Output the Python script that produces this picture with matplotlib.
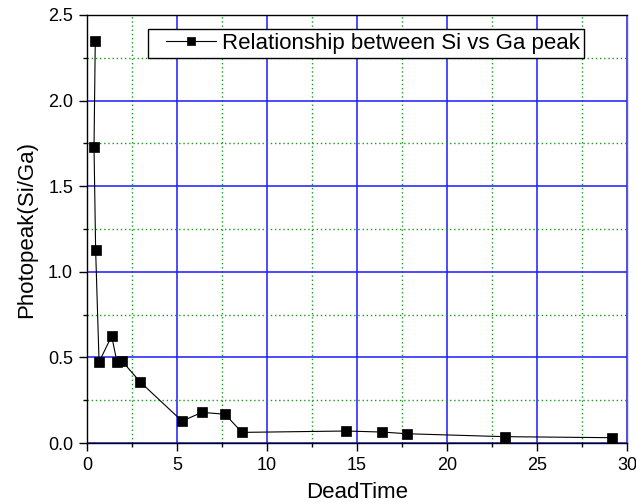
import matplotlib
matplotlib.use("Agg")
from matplotlib import pyplot as plt
from matplotlib.ticker import MultipleLocator, FormatStrFormatter
from matplotlib.legend_handler import HandlerLine2D

# Data (in plotting order)
dead_time = [0.46, 0.39, 0.48, 0.67, 1.37, 1.67, 1.96, 2.96, 5.28, 6.39,
             7.67, 8.61, 14.39, 16.39, 17.8, 23.2, 29.15]
ratio = [2.35, 1.73, 1.127, 0.473, 0.625, 0.471, 0.477, 0.356, 0.128, 0.179,
         0.168, 0.062, 0.070, 0.064, 0.054, 0.037, 0.031]
legend_label = "Relationship between Si vs Ga peak"

plt.rcParams['font.family'] = ['Liberation Sans', 'DejaVu Sans']

fig = plt.figure(figsize=(6.36, 5.04), dpi=100)
ax = fig.add_axes([87 / 636, 61 / 504, 540 / 636, 428 / 504])

#Grid first so the data sits on top
ax.set_xlim(0, 30)
ax.set_ylim(0, 2.5)
ax.xaxis.set_major_locator(MultipleLocator(5))
ax.xaxis.set_minor_locator(MultipleLocator(2.5))
ax.yaxis.set_major_locator(MultipleLocator(0.5))
ax.yaxis.set_minor_locator(MultipleLocator(0.25))
ax.grid(which='major', color='#1a1aff', linestyle='-', linewidth=1.1)
ax.grid(which='minor', color='#1a9a1a', linestyle=(0, (1, 2)), linewidth=1.0)
ax.set_axisbelow(True)

line, = ax.plot(dead_time, ratio, color='black', linewidth=0.8, marker='s',
                markersize=7, markerfacecolor='black', markeredgecolor='black',
                markeredgewidth=0.5, label=legend_label)

ax.tick_params(which='major', direction='out', length=6, width=1,
               labelsize=13, color='black', pad=4)
ax.tick_params(which='minor', direction='out', length=3, width=1)
ax.yaxis.set_major_formatter(FormatStrFormatter('%.1f'))

for s in ax.spines.values():
    s.set_linewidth(1.0)
    s.set_color('black')
ax.spines['right'].set_color('#666666')

ax.set_xlabel("DeadTime", fontsize=16, labelpad=6)
ax.set_ylabel("Photopeak(Si/Ga)", fontsize=16, labelpad=8)

#Origin style legend: line - marker - line with a gap on the left
leg = ax.legend(loc='upper left', bbox_to_anchor=(61 / 540, 1 - 14 / 428),
                fontsize=16, fancybox=False, framealpha=1, edgecolor='black',
                borderpad=0.18, handlelength=2.88, handletextpad=0.27,
                borderaxespad=0, markerscale=0.9,
                handler_map={line: HandlerLine2D(xpad=0.63)})
leg.get_frame().set_linewidth(1.0)

fig.savefig("out.png", dpi=100)
